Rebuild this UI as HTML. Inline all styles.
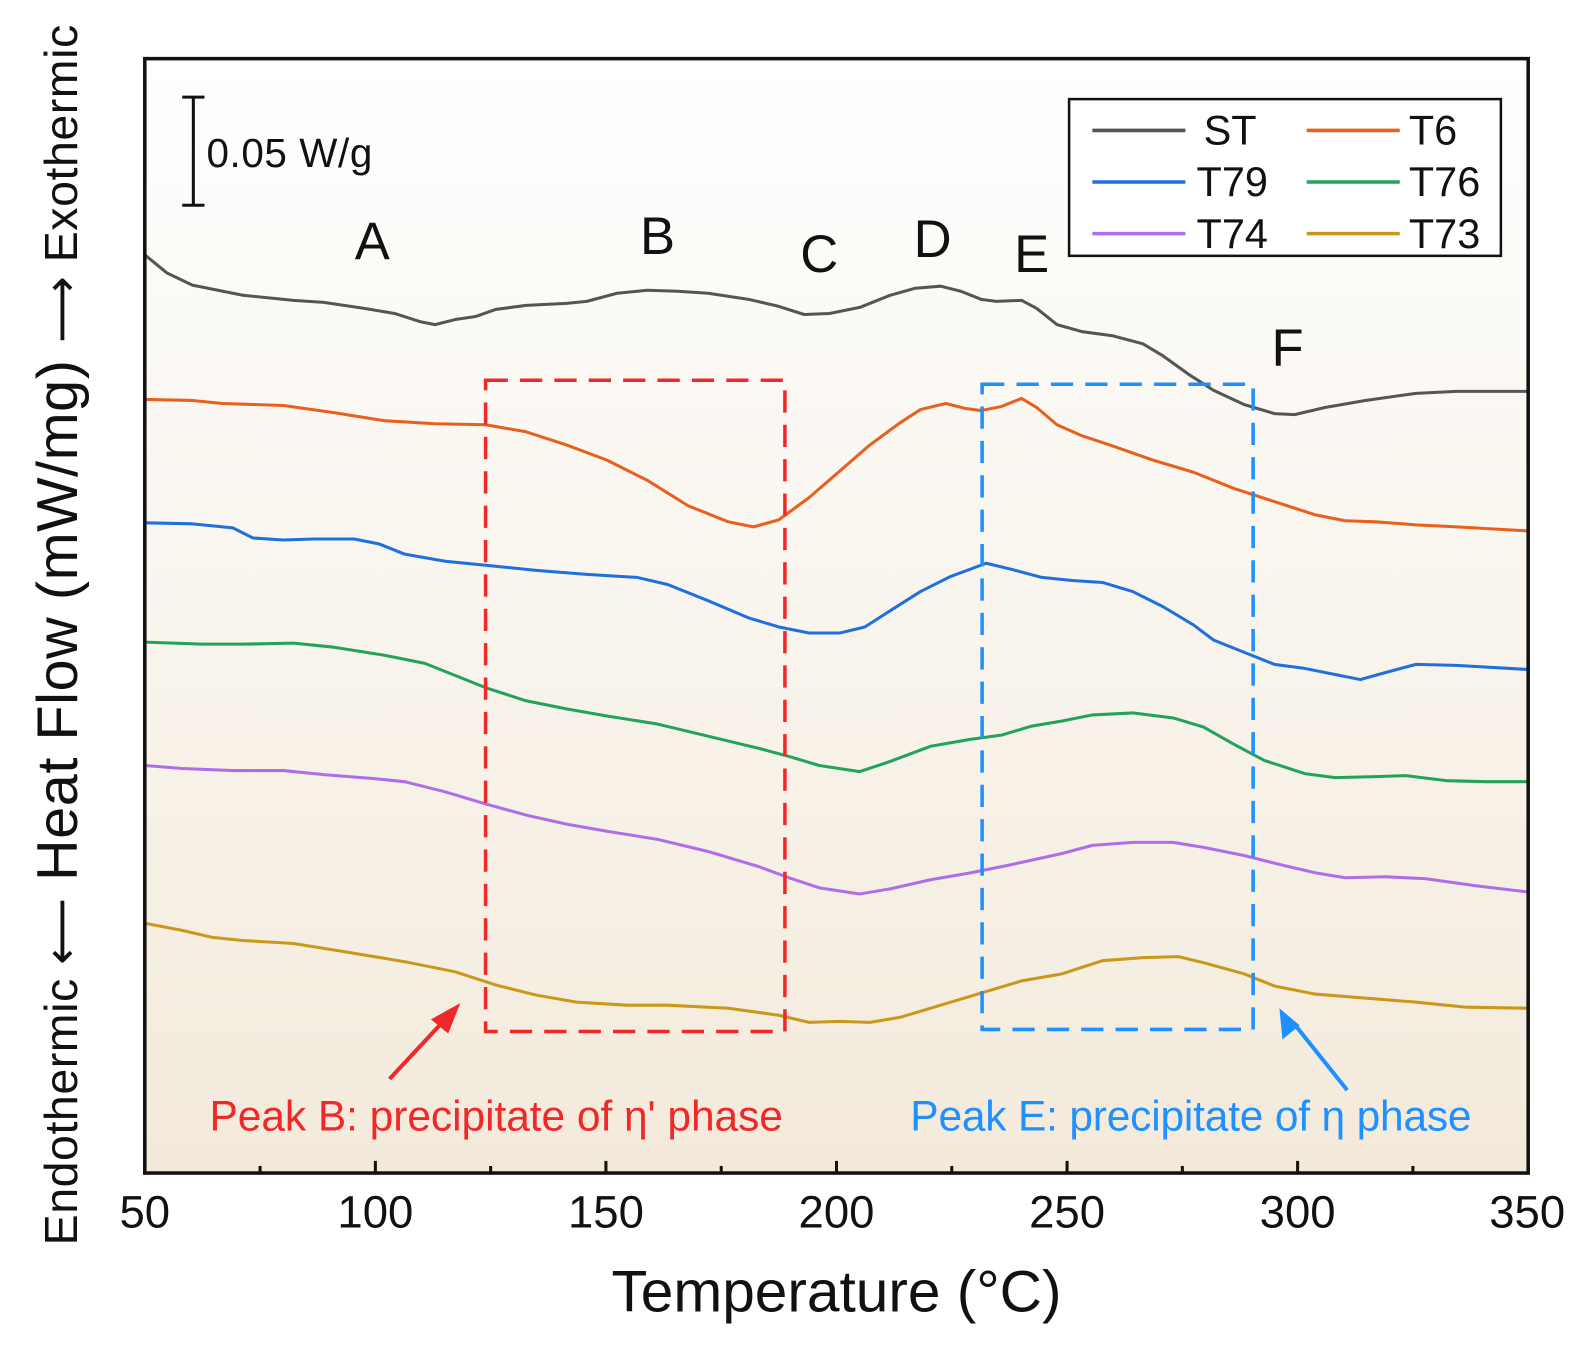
<!DOCTYPE html>
<html><head><meta charset="utf-8"><style>html,body{margin:0;padding:0;background:#fff}svg{display:block}</style></head>
<body>
<svg width="1584" height="1349" viewBox="0 0 1566 1334" xmlns="http://www.w3.org/2000/svg" font-family="Liberation Sans, Arial, sans-serif">
<defs><linearGradient id="bg" x1="0" y1="0" x2="0" y2="1"><stop offset="0" stop-color="#ffffff"/><stop offset="1" stop-color="#f3eadb"/></linearGradient></defs>
<rect x="143" y="58" width="1368" height="1102" fill="url(#bg)"/>
<g fill="none" stroke-width="3" stroke-linejoin="round" stroke-linecap="round">
<polyline stroke="#555" points="143,252 165,270 190,282 240,292 290,297 320,299 360,305 390,310 415,318 430,321 450,316 470,313 490,306 520,302 560,300 580,298 610,290 640,287 670,288 700,290 740,296 770,303 795,311 820,310 850,304 880,292 905,285 930,283 950,288 970,296 985,298 1010,297 1025,305 1045,321 1070,328 1100,332 1130,340 1150,352 1175,370 1200,386 1230,400 1260,409 1280,410 1310,403 1350,396 1400,389 1440,387 1510,387"/>
<polyline stroke="#e8601c" points="143,395 190,396 220,399 280,401 330,408 380,416 430,419 480,420 520,427 560,440 600,455 640,475 680,500 720,516 745,521 770,514 800,492 830,466 860,440 890,418 910,405 935,399 955,404 970,406 990,402 1010,394 1025,403 1045,420 1070,431 1100,441 1140,455 1180,467 1220,483 1260,496 1300,509 1330,515 1360,516 1400,519 1440,521 1510,525"/>
<polyline stroke="#1f6fdc" points="143,517 190,518 230,522 250,532 280,534 310,533 350,533 375,538 400,548 440,555 480,559 530,564 580,568 630,571 660,578 700,594 740,611 770,620 800,626 830,626 855,620 880,604 910,585 940,570 975,557 1000,563 1030,571 1060,574 1090,576 1120,585 1150,600 1180,618 1200,633 1230,645 1260,657 1290,661 1320,667 1345,672 1370,665 1400,657 1440,658 1510,662"/>
<polyline stroke="#22a35a" points="143,635 200,637 240,637 290,636 330,640 380,648 420,656 450,668 480,680 520,693 560,701 600,708 650,716 700,728 750,740 780,748 810,757 850,763 880,753 920,738 960,731 990,727 1020,718 1050,713 1080,707 1120,705 1160,710 1190,719 1220,736 1250,752 1290,765 1320,769 1360,768 1390,767 1430,772 1470,773 1510,773"/>
<polyline stroke="#b06de8" points="143,757 180,760 230,762 280,762 320,766 370,770 400,773 440,783 480,795 520,806 560,815 600,822 650,830 700,842 750,857 780,868 810,878 850,884 880,879 920,870 960,863 1000,855 1050,844 1080,836 1120,833 1160,833 1190,838 1230,846 1270,856 1300,863 1330,868 1370,867 1410,869 1460,876 1510,882"/>
<polyline stroke="#c9981a" points="143,913 180,920 210,927 240,930 290,933 340,941 400,951 450,961 490,974 530,984 570,991 620,994 660,994 720,997 770,1004 800,1011 830,1010 860,1011 890,1006 930,994 970,982 1010,970 1050,963 1090,950 1130,947 1165,946 1190,952 1230,963 1260,975 1300,983 1350,987 1400,991 1450,996 1510,997"/>
</g>
<rect x="480" y="376" width="296" height="644" fill="none" stroke="#f0282a" stroke-width="3.5" stroke-dasharray="22,12"/>
<rect x="971" y="380" width="268" height="638" fill="none" stroke="#1e90ff" stroke-width="3.5" stroke-dasharray="22,12"/>
<g stroke-width="4">
<line x1="385" y1="1067" x2="440" y2="1008" stroke="#f0282a"/>
<polygon points="455,992 426,1008 443,1022" fill="#f0282a"/>
<line x1="1332" y1="1078" x2="1280" y2="1013" stroke="#1e90ff"/>
<polygon points="1265,997 1268,1028 1285,1014" fill="#1e90ff"/>
</g>
<text x="207" y="1118" font-size="42" fill="#f0282a" textLength="567">Peak B: precipitate of η' phase</text>
<text x="900" y="1118" font-size="42" fill="#1e90ff" textLength="555">Peak E: precipitate of η phase</text>
<g font-size="52" text-anchor="middle" fill="#111">
<text x="368" y="256">A</text><text x="650" y="251">B</text><text x="810" y="269">C</text><text x="922" y="254">D</text><text x="1020" y="269">E</text><text x="1273" y="362">F</text>
</g>
<g stroke="#111" stroke-width="3"><line x1="191" y1="96" x2="191" y2="203"/><line x1="180" y1="96" x2="202" y2="96"/><line x1="180" y1="203" x2="202" y2="203"/></g>
<text x="204" y="165" font-size="40" fill="#111" textLength="164">0.05 W/g</text>
<rect x="1057" y="98" width="427" height="155" fill="#fff" stroke="#111" stroke-width="2.5"/>
<g stroke-width="3.5">
<line x1="1080" y1="129" x2="1172" y2="129" stroke="#555"/>
<line x1="1292" y1="129" x2="1384" y2="129" stroke="#e8601c"/>
<line x1="1080" y1="180" x2="1172" y2="180" stroke="#1f6fdc"/>
<line x1="1292" y1="180" x2="1384" y2="180" stroke="#22a35a"/>
<line x1="1080" y1="231" x2="1172" y2="231" stroke="#b06de8"/>
<line x1="1292" y1="231" x2="1384" y2="231" stroke="#c9981a"/>
</g>
<g font-size="41" fill="#111">
<text x="1190" y="143">ST</text><text x="1393" y="143">T6</text>
<text x="1183" y="194">T79</text><text x="1393" y="194">T76</text>
<text x="1183" y="245">T74</text><text x="1393" y="245">T73</text>
</g>
<rect x="143" y="58" width="1368" height="1102" fill="none" stroke="#111" stroke-width="3.5"/>
<g stroke="#111" stroke-width="3">
<line x1="371" y1="1160" x2="371" y2="1148"/><line x1="599" y1="1160" x2="599" y2="1148"/><line x1="827" y1="1160" x2="827" y2="1148"/><line x1="1055" y1="1160" x2="1055" y2="1148"/><line x1="1283" y1="1160" x2="1283" y2="1148"/>
<line x1="257" y1="1160" x2="257" y2="1153"/><line x1="485" y1="1160" x2="485" y2="1153"/><line x1="713" y1="1160" x2="713" y2="1153"/><line x1="941" y1="1160" x2="941" y2="1153"/><line x1="1169" y1="1160" x2="1169" y2="1153"/><line x1="1397" y1="1160" x2="1397" y2="1153"/>
</g>
<g font-size="45" text-anchor="middle" fill="#111">
<text x="143" y="1214">50</text><text x="371" y="1214">100</text><text x="599" y="1214">150</text><text x="827" y="1214">200</text><text x="1055" y="1214">250</text><text x="1283" y="1214">300</text><text x="1510" y="1214">350</text>
</g>
<text x="827" y="1297" font-size="58" text-anchor="middle" fill="#111" textLength="445">Temperature (°C)</text>
<text transform="translate(76,628) rotate(-90)" text-anchor="middle" fill="#111" font-size="46" textLength="1207"><tspan>Endothermic </tspan><tspan font-family="DejaVu Sans, sans-serif">⟵</tspan><tspan font-size="57"> Heat Flow (mW/mg) </tspan><tspan font-family="DejaVu Sans, sans-serif">⟶</tspan><tspan> Exothermic</tspan></text>
</svg>
</body></html>
